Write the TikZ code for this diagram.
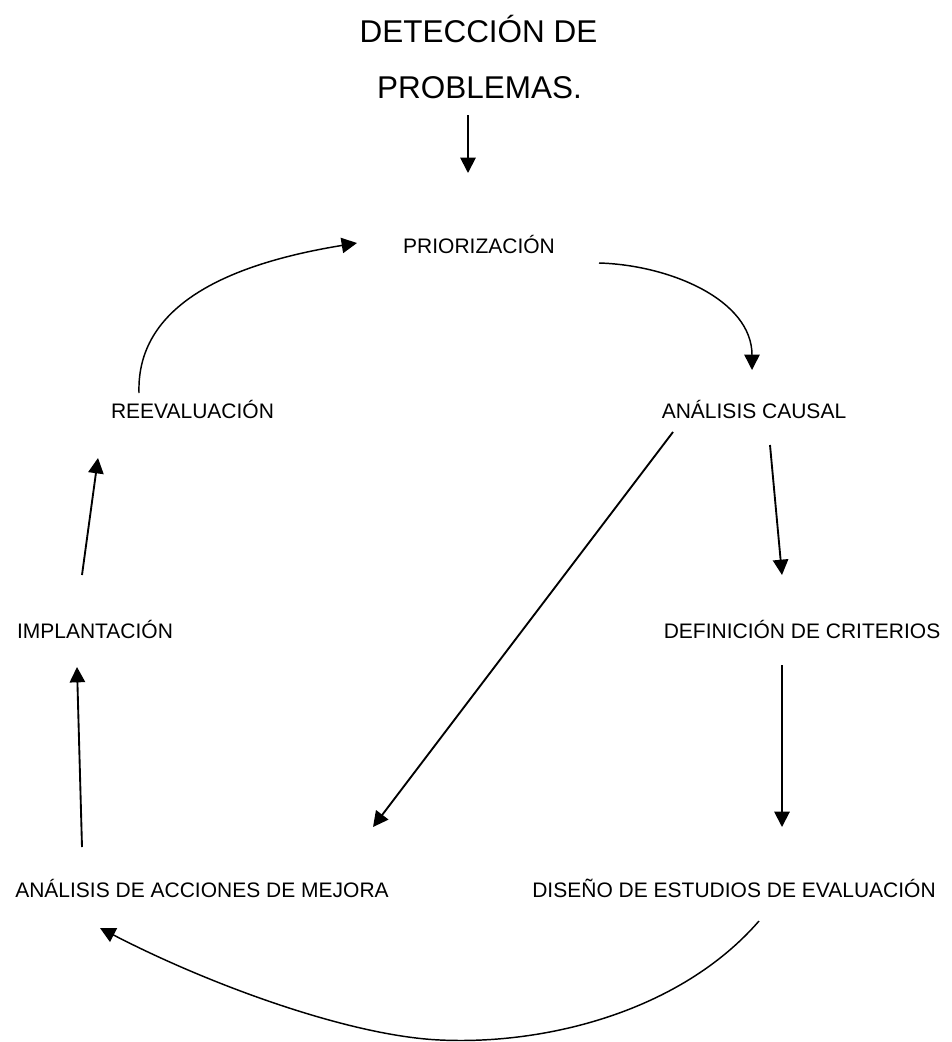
\documentclass[tikz,border=0pt]{standalone}
\usepackage{fontspec}
\setmainfont{Liberation Sans}
\usetikzlibrary{arrows.meta}
\begin{document}
\begin{tikzpicture}[x=0.75pt,y=-0.75pt,
  lbl/.style={anchor=base,inner sep=0pt,font=\fontsize{15.75pt}{18pt}\selectfont},
  ttl/.style={anchor=base,inner sep=0pt,font=\fontsize{23.6pt}{28pt}\selectfont},
  conn/.style={line width=1.4pt,-{Triangle[length=11.5pt,width=11.5pt]}},
  curv/.style={line width=1.1pt,-{Triangle[length=11.5pt,width=11.5pt]}}]
\useasboundingbox[fill=white] (0,0) rectangle (951,1042);
% labels
\node[ttl] (t1) at (478.5,42) {DETECCIÓN DE};
\node[ttl] (t2) at (479.5,98) {PROBLEMAS.};
\node[lbl] (prior) at (479,253) {PRIORIZACIÓN};
\node[lbl] (reeval) at (192.5,418) {REEVALUACIÓN};
\node[lbl] (causal) at (754,418) {ANÁLISIS CAUSAL};
\node[lbl] (implant) at (95,638) {IMPLANTACIÓN};
\node[lbl] (defcrit) at (802,638) {DEFINICIÓN DE CRITERIOS};
\node[lbl] (mejora) at (202,897) {ANÁLISIS DE ACCIONES DE MEJORA};
\node[lbl] (diseno) at (734,897) {DISEÑO DE ESTUDIOS DE EVALUACIÓN};
% connector end points
\coordinate (tA) at (468,115);   \coordinate (tB) at (468,173);
\coordinate (rA) at (139,393);   \coordinate (rB) at (357,243);
\coordinate (pA) at (599,263);   \coordinate (pB) at (752,370);
\coordinate (cA) at (770,445);   \coordinate (cB) at (782,575);
\coordinate (cmA) at (673,432);  \coordinate (cmB) at (373,827);
\coordinate (dA) at (782,665);   \coordinate (dB) at (782,827);
\coordinate (eA) at (759,921);   \coordinate (eM) at (440,1040); \coordinate (eB) at (100,928);
\coordinate (mA) at (82,847);    \coordinate (mB) at (77,667);
\coordinate (iA) at (82,575);    \coordinate (iB) at (98,458);
% connectors
\draw[conn] (tA) -- (tB);
\draw[curv] (rA) .. controls (136,300) and (240,262) .. (rB);
\draw[curv] (pA) .. controls (670,265) and (752,300) .. (pB);
\draw[conn] (cA) -- (cB);
\draw[conn] (cmA) -- (cmB);
\draw[conn] (dA) -- (dB);
\draw[curv] (eA) .. controls (680,1012) and (545,1045) .. (eM) .. controls (350,1036) and (210,985) .. (eB);
\draw[conn] (mA) -- (mB);
\draw[conn] (iA) -- (iB);
\end{tikzpicture}
\end{document}
